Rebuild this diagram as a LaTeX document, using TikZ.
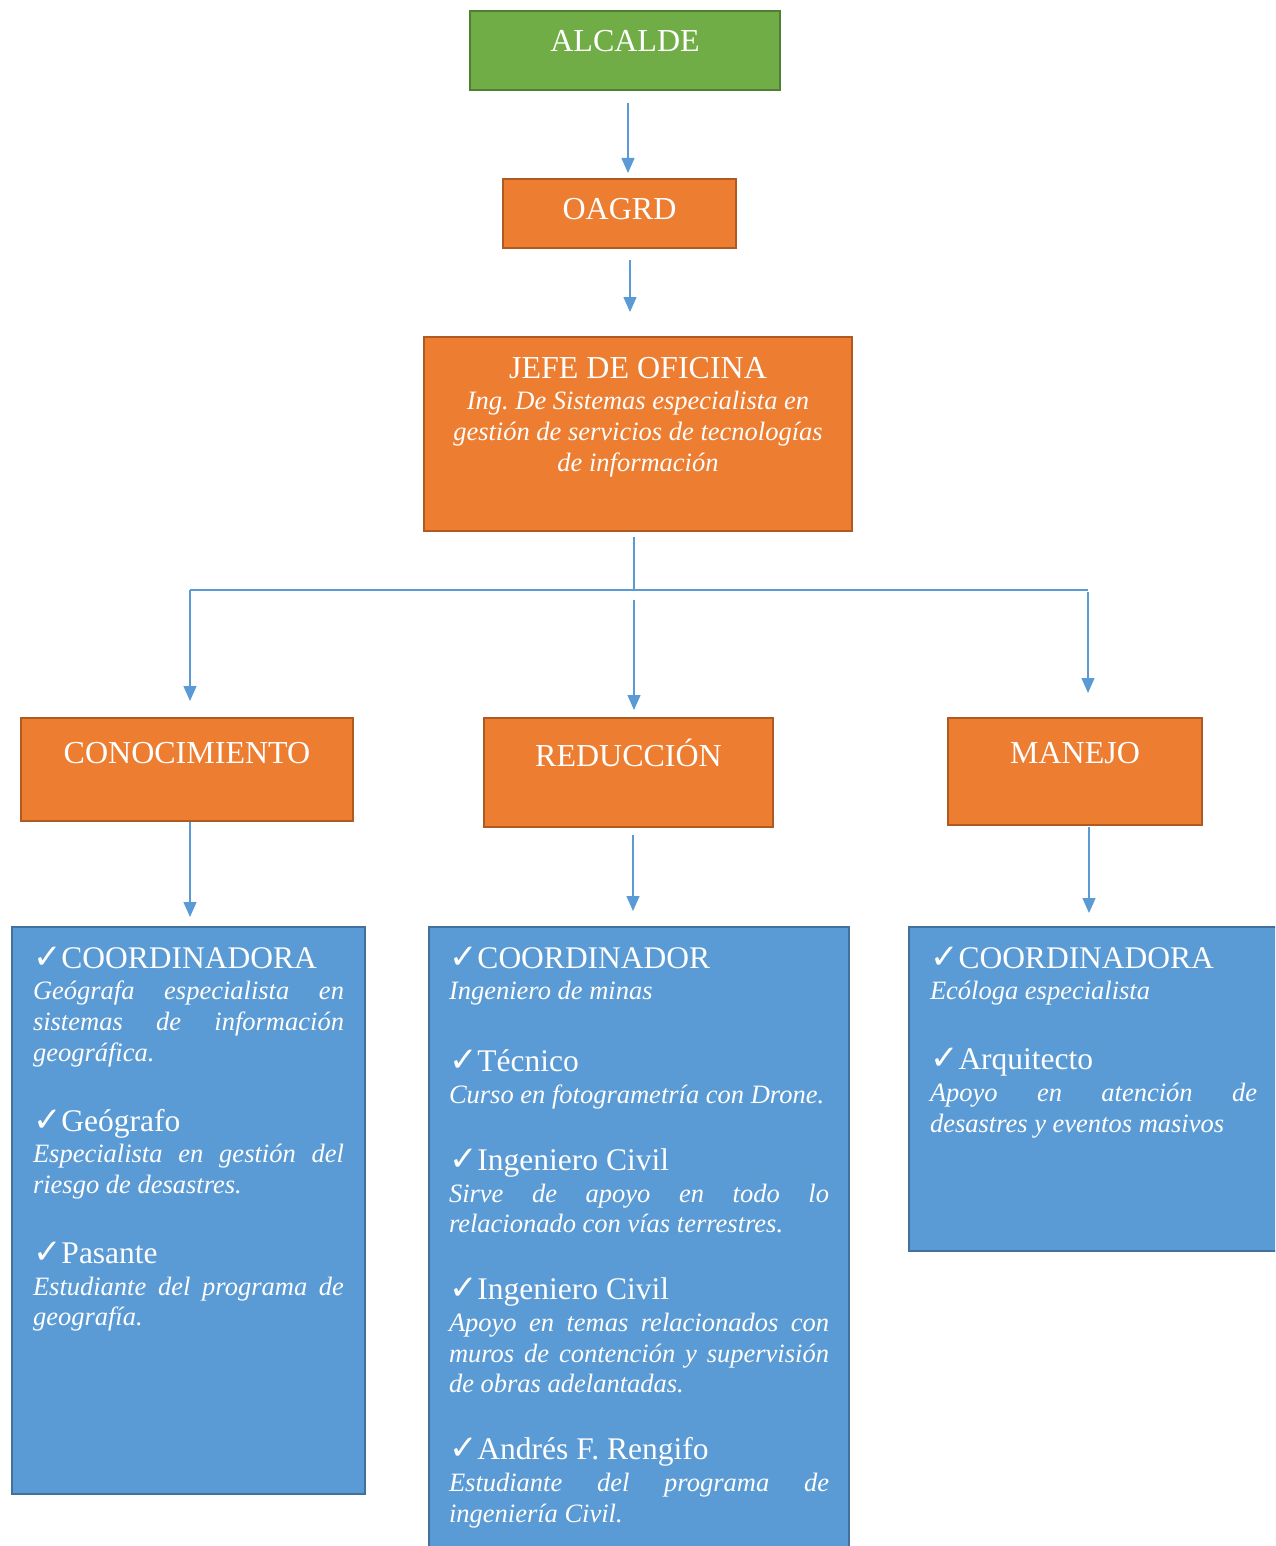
\documentclass[tikz,border=0pt]{standalone}
\usepackage{fontspec}
\setmainfont{Liberation Serif}
\newfontfamily\checkfont{DejaVu Sans}
\usepackage{tikz}
\usetikzlibrary{arrows.meta}

\definecolor{greenfill}{HTML}{70AD47}
\definecolor{greenline}{HTML}{507E32}
\definecolor{orangefill}{HTML}{ED7D31}
\definecolor{orangeline}{HTML}{AE5A21}
\definecolor{bluefill}{HTML}{5B9BD5}
\definecolor{blueline}{HTML}{41719C}

\frenchspacing
\hyphenpenalty=10000
\exhyphenpenalty=10000

\newcommand{\rolehead}[1]{{\fontsize{31.5}{34}\selectfont{\checkfont\fontsize{34}{34}\selectfont ✓}#1\par}\vspace{1pt}}
\newcommand{\roledesc}[1]{{\fontsize{26.5}{30.7}\selectfont\itshape\tolerance=10000 #1\par}}
\newcommand{\rolegap}[1][36pt]{\vspace{#1}}

\begin{document}
\begin{tikzpicture}[x=1pt, y=-1pt,
  every node/.style={text=white},
  headbox/.style={draw=orangeline, fill=orangefill, line width=2pt, inner sep=0pt,
    anchor=north, font=\fontsize{32}{38}\selectfont},
  topbox/.style={headbox, draw=greenline, fill=greenfill},
  staffbox/.style={draw=blueline, fill=bluefill, line width=2pt, inner xsep=21pt,
    inner ysep=0pt, align=justify, anchor=north west, text height=41pt},
  busline/.style={draw=bluefill, line width=1.4pt},
  link/.style={busline, -{Triangle[width=13pt,length=15pt]}}]
\useasboundingbox (0,0) rectangle (1275,1546);
\clip (0,0) rectangle (1275,1546);

\node [topbox, minimum width=310pt, text height=41pt, text depth=38pt] (alcalde) at (625,10) {ALCALDE};
\node [headbox, minimum width=233pt, text height=41pt, text depth=28pt] (oagrd) at (619.5,178) {OAGRD};
\node [headbox, text height=41pt, text depth=153pt] (jefe) at (638,336)
  {\parbox[t]{428pt}{\centering{\fontsize{32}{31}\selectfont JEFE DE OFICINA\par}
   {\fontsize{26.5}{31}\selectfont\itshape Ing. De Sistemas especialista en\\
    gestión de servicios de tecnologías\\ de información\par}}};

\node [headbox, minimum width=332pt, text height=45pt, text depth=58pt] (conoc) at (187,717) {CONOCIMIENTO};
\node [headbox, minimum width=289pt, text height=48pt, text depth=61pt] (reduc) at (628.5,717) {REDUCCIÓN};
\node [headbox, minimum width=254pt, text height=45pt, text depth=62pt] (manejo) at (1075,717) {MANEJO};

\node [staffbox, text width=311pt, text depth=526pt] (conbox) at (11,926) {%
  \rolehead{COORDINADORA}
  \roledesc{Geógrafa especialista en\linebreak sistemas de información\linebreak geográfica.}
  \rolegap
  \rolehead{Geógrafo}
  \roledesc{Especialista en gestión del\linebreak riesgo de desastres.}
  \rolegap
  \rolehead{Pasante}
  \roledesc{Estudiante del programa de\linebreak geografía.}};

\node [staffbox, inner xsep=20pt, text width=380pt, text depth=593pt] (redbox) at (428,926) {%
  \rolehead{COORDINADOR}
  \roledesc{Ingeniero de minas}
  \rolegap[38pt]
  \rolehead{Técnico}
  \roledesc{Curso en fotogrametría con Drone.}
  \rolegap[33pt]
  \rolehead{Ingeniero Civil}
  \roledesc{Sirve de apoyo en todo lo\linebreak relacionado con vías terrestres.}
  \rolegap[33pt]
  \rolehead{Ingeniero Civil}
  \roledesc{Apoyo en temas relacionados con\linebreak muros de contención y supervisión\linebreak de obras adelantadas.}
  \rolegap[33pt]
  \rolehead{Andrés F. Rengifo}
  \roledesc{Estudiante del programa de\linebreak ingeniería Civil.}};

\node [staffbox, text width=327pt, text depth=283pt] (manbox) at (908,926) {%
  \rolehead{COORDINADORA}
  \roledesc{Ecóloga especialista}
  \rolegap
  \rolehead{Arquitecto}
  \roledesc{Apoyo en atención de\linebreak desastres y eventos masivos}};

\coordinate (hub) at (634,590);
\coordinate (busL) at (190,590);
\coordinate (busR) at (1088,590);

\draw [link, shorten <=12pt, shorten >=5pt] ([xshift=3pt]alcalde.south) -- ([xshift=3pt]alcalde.south |- oagrd.north);
\draw [link, shorten <=11pt, shorten >=24pt] ([xshift=10.5pt]oagrd.south) -- ([xshift=10.5pt]oagrd.south |- jefe.north);
\draw [busline, shorten <=5pt] (jefe.south -| hub) -- (hub);
\draw [busline] (busL) -- (busR);
\draw [link, shorten >=16pt] (busL) -- (busL |- conoc.north);
\draw [link, shorten <=10pt, shorten >=7pt] (hub) -- (hub |- reduc.north);
\draw [link, shorten <=2pt, shorten >=24pt] (busR) -- (busR |- manejo.north);

\draw [link, shorten >=9pt] ([xshift=3pt]conoc.south) -- ([xshift=3pt]conoc.south |- conbox.north);
\draw [link, shorten <=7pt, shorten >=15pt] ([xshift=4.5pt]reduc.south) -- ([xshift=4.5pt]reduc.south |- redbox.north);
\draw [link, shorten <=1pt, shorten >=13pt] ([xshift=14pt]manejo.south) -- ([xshift=14pt]manejo.south |- manbox.north);
\end{tikzpicture}
\end{document}
